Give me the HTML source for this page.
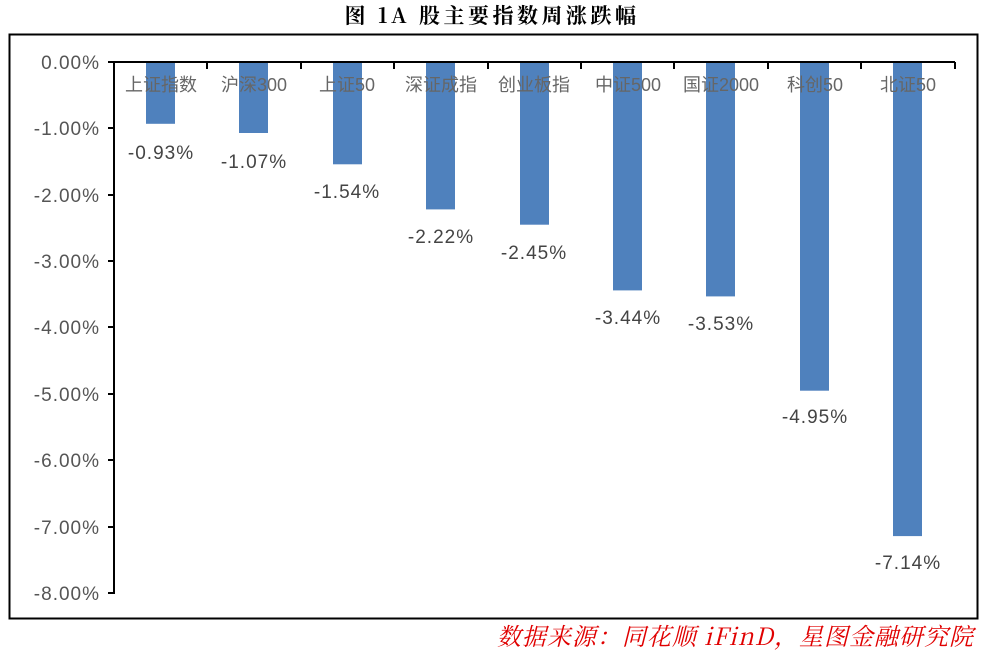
<!DOCTYPE html>
<html><head><meta charset="utf-8"><style>
body{margin:0;background:#fff;width:984px;height:652px;overflow:hidden}
</style></head><body>
<svg width="984" height="652" xmlns="http://www.w3.org/2000/svg">
<text x="492" y="23" text-anchor="middle" font-family="'Noto Serif CJK SC','Liberation Serif',serif" font-weight="bold" font-size="21" letter-spacing="3.5" fill="#000" xml:space="preserve">图 1A 股主要指数周涨跌幅</text>
<rect x="9.5" y="34.5" width="968" height="584" fill="none" stroke="#000" stroke-width="2"/>
<g font-family="'Liberation Sans','Noto Sans CJK SC',sans-serif" font-size="19" fill="#555" text-anchor="end" letter-spacing="1">
<text x="100" y="69">0.00%</text>
<text x="100" y="135">-1.00%</text>
<text x="100" y="202">-2.00%</text>
<text x="100" y="268">-3.00%</text>
<text x="100" y="334">-4.00%</text>
<text x="100" y="401">-5.00%</text>
<text x="100" y="467">-6.00%</text>
<text x="100" y="534">-7.00%</text>
<text x="100" y="600">-8.00%</text>
</g>
<g fill="#4f81bd">
<rect x="146" y="62" width="29" height="61.8"/>
<rect x="239" y="62" width="29" height="71.0"/>
<rect x="333" y="62" width="29" height="102.3"/>
<rect x="426" y="62" width="29" height="147.4"/>
<rect x="520" y="62" width="29" height="162.7"/>
<rect x="613" y="62" width="29" height="228.4"/>
<rect x="706" y="62" width="29" height="234.4"/>
<rect x="800" y="62" width="29" height="328.7"/>
<rect x="893" y="62" width="29" height="474.1"/>
</g>
<g stroke="#000" stroke-width="2">
<line x1="114" y1="61" x2="114" y2="594"/>
<line x1="113" y1="62" x2="955" y2="62"/>
<line x1="108" y1="62" x2="114" y2="62"/><line x1="108" y1="128" x2="114" y2="128"/><line x1="108" y1="195" x2="114" y2="195"/><line x1="108" y1="261" x2="114" y2="261"/><line x1="108" y1="327" x2="114" y2="327"/><line x1="108" y1="394" x2="114" y2="394"/><line x1="108" y1="460" x2="114" y2="460"/><line x1="108" y1="527" x2="114" y2="527"/><line x1="108" y1="593" x2="114" y2="593"/>
<line x1="207" y1="62" x2="207" y2="69"/><line x1="301" y1="62" x2="301" y2="69"/><line x1="394" y1="62" x2="394" y2="69"/><line x1="488" y1="62" x2="488" y2="69"/><line x1="581" y1="62" x2="581" y2="69"/><line x1="674" y1="62" x2="674" y2="69"/><line x1="768" y1="62" x2="768" y2="69"/><line x1="861" y1="62" x2="861" y2="69"/><line x1="955" y1="62" x2="955" y2="69"/>
</g>
<g font-family="'Liberation Sans','Noto Sans CJK SC',sans-serif" font-size="18" fill="#666" text-anchor="middle">
<text x="161" y="91">上证指数</text><text x="254" y="91">沪深300</text><text x="347" y="91">上证50</text><text x="441" y="91">深证成指</text><text x="534" y="91">创业板指</text><text x="628" y="91">中证500</text><text x="721" y="91">国证2000</text><text x="815" y="91">科创50</text><text x="908" y="91">北证50</text>
</g>
<g font-family="'Liberation Sans',sans-serif" font-size="19" fill="#444" text-anchor="middle" letter-spacing="1">
<text x="161" y="159">-0.93%</text><text x="254" y="168">-1.07%</text><text x="347" y="198">-1.54%</text><text x="441" y="243">-2.22%</text><text x="534" y="259">-2.45%</text><text x="628" y="324">-3.44%</text><text x="721" y="330">-3.53%</text><text x="815" y="423">-4.95%</text><text x="908" y="569">-7.14%</text>
</g>
<text x="974" y="645" text-anchor="end" font-family="'Noto Serif CJK SC','Liberation Serif',serif" font-style="italic" font-size="24" letter-spacing="1" fill="#e00000" xml:space="preserve">数据来源：同花顺 iFinD，星图金融研究院</text>
</svg>
</body></html>
